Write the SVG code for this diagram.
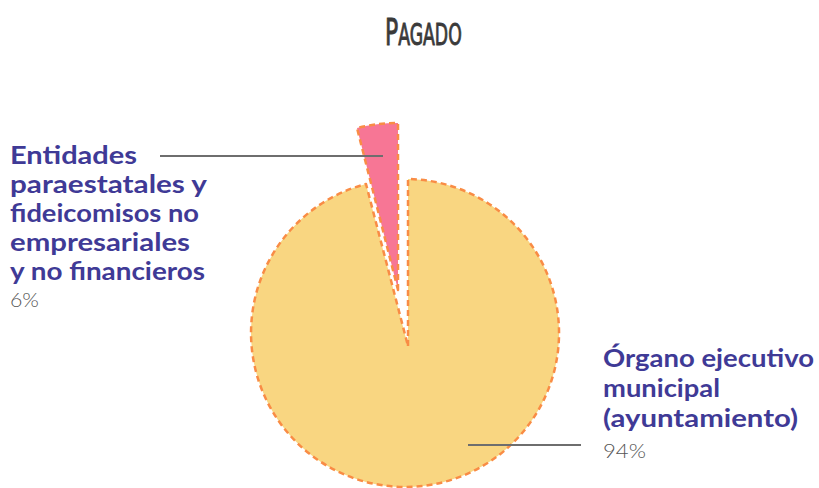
<svg xmlns="http://www.w3.org/2000/svg" width="819" height="488" viewBox="0 0 819 488">
<style>
.slice{stroke:#F98C45;stroke-width:2.5;stroke-dasharray:6 4;stroke-linejoin:round}
.lead{stroke:#6E6E6E;stroke-width:2;fill:none}
.lbl{font-family:"Lato","Open Sans",sans-serif;font-weight:700;font-size:24px;fill:#3F3A96}
.pct{font-family:"Lato","Open Sans",sans-serif;font-weight:300;font-size:19px;fill:#555}
.title{font-family:"DejaVu Sans Condensed","Liberation Sans Narrow","DejaVu Sans",sans-serif;font-weight:400;fill:#3a3a3a;stroke:#3a3a3a;stroke-width:0.9}
</style>
<rect width="819" height="488" fill="#fff"/>
<g id="title">
<text class="title" transform="translate(385,45) scale(0.64,1)"><tspan font-size="38">P</tspan><tspan font-size="30">AGADO</tspan></text>
</g>
<g id="slice-yellow">
<path class="slice" fill="#F9D681" d="M408,346 L408,179 A154,154 0 1 1 366,184 Z"/>
</g>
<g id="slice-pink">
<path class="slice" fill="#F77695" d="M398,290 L398,123 A167,167 0 0 0 357,128 Z"/>
</g>
<g id="connectors">
<line class="lead" x1="160" y1="156" x2="383" y2="156"/>
<line class="lead" x1="468" y1="445" x2="581" y2="445"/>
</g>
<g id="label-entidades">
<text class="lbl" x="10" y="164" textLength="127" lengthAdjust="spacingAndGlyphs">Entidades</text>
<text class="lbl" x="10" y="193" textLength="197" lengthAdjust="spacingAndGlyphs">paraestatales y</text>
<text class="lbl" x="10" y="222" textLength="189" lengthAdjust="spacingAndGlyphs">fideicomisos no</text>
<text class="lbl" x="10" y="251" textLength="180" lengthAdjust="spacingAndGlyphs">empresariales</text>
<text class="lbl" x="10" y="280" textLength="195" lengthAdjust="spacingAndGlyphs">y no financieros</text>
<text class="pct" x="10" y="307" textLength="29" lengthAdjust="spacingAndGlyphs">6%</text>
</g>
<g id="label-organo">
<text class="lbl" x="603" y="367" textLength="211" lengthAdjust="spacingAndGlyphs">Órgano ejecutivo</text>
<text class="lbl" x="603" y="397" textLength="117" lengthAdjust="spacingAndGlyphs">municipal</text>
<text class="lbl" x="603" y="427" textLength="195" lengthAdjust="spacingAndGlyphs">(ayuntamiento)</text>
<text class="pct" x="603" y="458" textLength="43" lengthAdjust="spacingAndGlyphs">94%</text>
</g>
</svg>
